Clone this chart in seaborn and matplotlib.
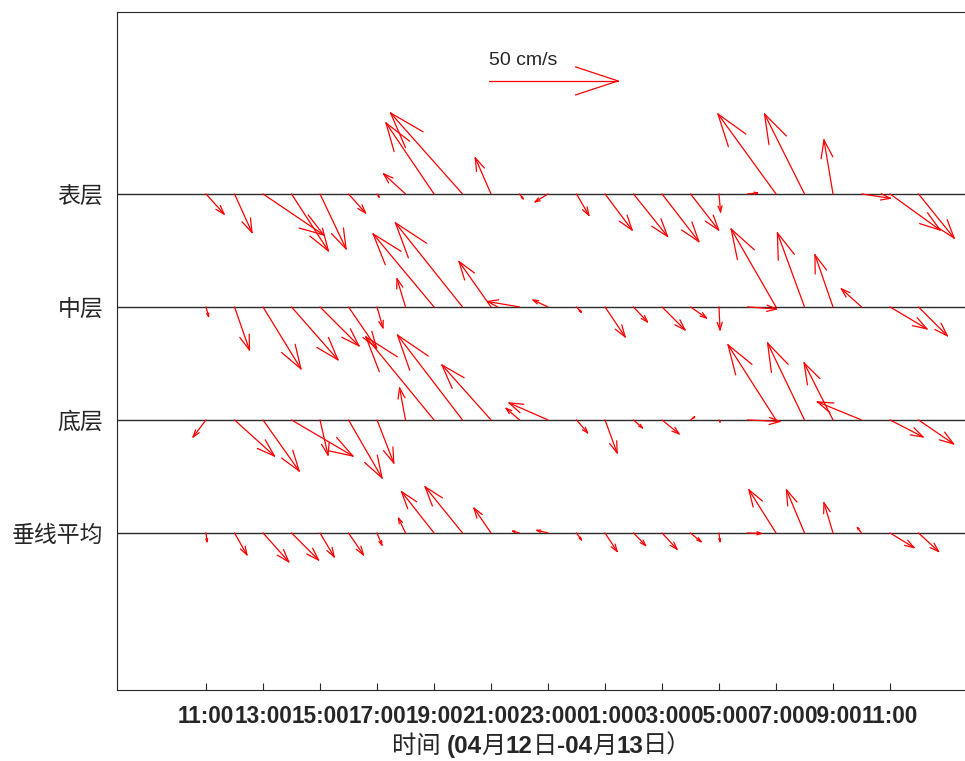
import numpy as np
import pandas as pd
import seaborn as sns
import matplotlib
matplotlib.use("Agg")
import matplotlib.pyplot as plt
from matplotlib.collections import LineCollection

# ---------------- data ----------------
hours = list(range(26))  # hours after 11:00 on 04-12
tick_hours = [0, 2, 4, 6, 8, 10, 12, 14, 16, 18, 20, 22, 24]
tick_labels = ["11:00", "13:00", "15:00", "17:00", "19:00", "21:00", "23:00",
               "01:00", "03:00", "05:00", "07:00", "09:00", "11:00"]
layers = ["表层", "中层", "底层", "垂线平均"]
layer_y = [4, 3, 2, 1]

# east (u) / north (v) velocity components, cm/s
u_surface = [7.0, 6.8, 23.5, 14.3, 10.1, 6.6, 0.8, -8.5, -18.6, -27.9, -6.1, 1.4, -5.0,
             4.8, 10.5, 13.2, 14.3, 10.9, 0.6, 3.9, -22.5, -15.5, -3.5, 11.2, 19.4, 13.8]
v_surface = [-7.8, -15.0, -15.9, -22.1, -21.3, -7.4, -1.2, 7.8, 27.5, 31.4, 14.0, -1.9, -3.1,
             -8.3, -14.0, -16.5, -18.5, -14.0, -7.0, 0.4, 31.0, 31.0, 20.9, -1.7, -14.0, -17.1]
u_middle = [1.0, 5.8, 14.7, 18.0, 15.1, 10.9, 2.3, -3.3, -23.6, -26.0, -12.4, -12.4, -5.8,
            1.9, 7.8, 5.4, 8.9, 6.2, 0.4, 11.2, -17.4, -10.5, -7.0, -7.8, 14.3, 11.2]
v_middle = [-3.7, -16.7, -24.0, -20.5, -15.1, -15.9, -8.1, 10.9, 28.3, 32.6, 17.6, 2.1, 2.7,
            -2.1, -11.6, -5.8, -8.9, -4.3, -8.9, -0.8, 30.2, 28.7, 20.2, 7.0, -8.5, -11.2]
u_bottom = [-5.0, 15.5, 14.0, 23.8, 3.1, 13.0, 6.5, -2.3, -26.4, -25.2, -19.0, -5.2, -15.1,
            4.3, 4.7, 3.5, 6.6, 1.6, 0.4, 12.6, -18.6, -14.3, -11.2, -17.1, 12.8, 13.6]
v_bottom = [-6.6, -14.0, -19.8, -14.0, -13.6, -22.5, -16.7, 12.4, 32.2, 32.9, 21.3, 4.5, 6.6,
            -5.0, -12.8, -3.1, -5.4, 1.2, -0.8, -0.6, 29.1, 29.8, 22.1, 7.0, -6.6, -9.3]
u_mean = [0.4, 4.8, 10.0, 10.5, 5.5, 5.8, 1.9, -2.7, -12.6, -14.5, -6.6, -2.7, -4.3,
          1.9, 4.7, 4.7, 5.8, 4.1, 0.4, 5.4, -10.5, -7.0, -3.5, -1.6, 9.3, 7.8]
v_mean = [-3.4, -8.5, -11.2, -10.5, -9.3, -8.5, -4.7, 5.7, 16.0, 17.9, 9.6, 0.7, 1.0,
          -2.7, -7.2, -4.9, -6.3, -3.4, -3.4, -0.2, 16.7, 16.7, 11.7, 2.1, -5.7, -7.2]

ref_speed = 50
ref_label = "50 cm/s"
ref_pos = (9.93, 5.0)
xlabel_parts = [("时间 ", "cjk"), ("(04", "b"), ("月", "cjk"), ("12", "b"), ("日", "cjk"),
                ("-04", "b"), ("月", "cjk"), ("13", "b"), ("日）", "cjk")]

# ---------------- style ----------------
sns.set_theme(style="white")
plt.rcParams["font.family"] = ["Liberation Sans", "Noto Sans CJK SC", "DejaVu Sans"]

W, H = 965, 761
fig = plt.figure(figsize=(W / 100, H / 100), dpi=100)
ax_left, ax_right, ax_top, ax_bottom = 117, 970, 12, 690
ax = fig.add_axes([ax_left / W, (H - ax_bottom) / H,
                   (ax_right - ax_left) / W, (ax_bottom - ax_top) / H])
xlim = (-3.123, 26.807)
ylim = (-0.39, 5.61)
ax.set_xlim(*xlim)
ax.set_ylim(*ylim)

PX_PER_CMS = 2.58
sx = (xlim[1] - xlim[0]) / (ax_right - ax_left)
sy = (ylim[1] - ylim[0]) / (ax_bottom - ax_top)
alpha, beta = 0.33, 0.33


def arrow_segments(x0, y0, u, v):
    dx, dy = u * PX_PER_CMS, v * PX_PER_CMS
    tip = (x0 + dx * sx, y0 + dy * sy)
    b1 = (dx - alpha * (dx + beta * dy), dy - alpha * (dy - beta * dx))
    b2 = (dx - alpha * (dx - beta * dy), dy - alpha * (dy + beta * dx))
    return [[(x0, y0), tip],
            [(x0 + b1[0] * sx, y0 + b1[1] * sy), tip],
            [(x0 + b2[0] * sx, y0 + b2[1] * sy), tip]]


# baselines
for yb in layer_y:
    ax.axhline(yb, color="#2b2b2b", lw=1.0, zorder=2)

segs = []
for yb, us, vs in zip(layer_y, [u_surface, u_middle, u_bottom, u_mean],
                      [v_surface, v_middle, v_bottom, v_mean]):
    df = pd.DataFrame({"t": hours, "u": us, "v": vs})
    for t, u, v in df.itertuples(index=False):
        segs.extend(arrow_segments(t, yb, u, v))
segs.extend(arrow_segments(ref_pos[0], ref_pos[1], ref_speed, 0))
ax.add_collection(LineCollection(segs, colors="#ff0000", linewidths=0.9,
                                 capstyle="round", zorder=3))

ax.text(ref_pos[0], 5.185, ref_label, fontsize=14, ha="left", va="center",
        family="Liberation Sans")

# axes styling
for side in ["left", "bottom", "top"]:
    ax.spines[side].set_visible(True)
    ax.spines[side].set_color("#262626")
    ax.spines[side].set_linewidth(0.8)
ax.spines["right"].set_visible(False)

ax.set_xticks(tick_hours)
ax.set_xticklabels(tick_labels, fontsize=16.3, fontweight="bold",
                   family="Liberation Sans")
ax.set_yticks(layer_y)
ax.set_yticklabels(layers, fontsize=16.5, family=["Noto Sans CJK SC"])
ax.tick_params(axis="x", direction="in", length=5, width=0.8, color="#262626",
               pad=11, bottom=True)
ax.tick_params(axis="y", direction="in", length=0, pad=10, left=True)
ax.grid(False)

# composite x label: bold latin, regular CJK
texts = []
for s, kind in xlabel_parts:
    if kind == "b":
        t = fig.text(0, 0, s, fontsize=17.5, fontweight="bold", family="Liberation Sans",
                     va="baseline", ha="left")
    else:
        t = fig.text(0, 0, s, fontsize=17.5, family=["Noto Sans CJK SC"],
                     va="baseline", ha="left")
    texts.append(t)
fig.canvas.draw()
r = fig.canvas.get_renderer()
widths = [t.get_window_extent(r).width for t in texts]
total = sum(widths)
cx = 542
x = cx - total / 2
base_y = (H - 753) / H
for t, w in zip(texts, widths):
    t.set_position((x / W, base_y))
    x += w

fig.savefig("out.png", dpi=100)
